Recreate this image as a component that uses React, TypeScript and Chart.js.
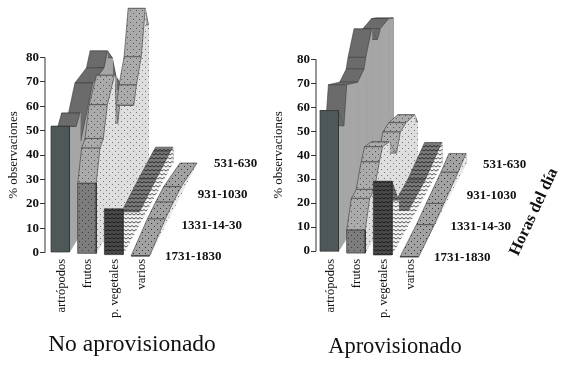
import React, { useEffect, useRef } from "react";
import { Chart, registerables } from "chart.js";

Chart.register(...registerables);

// ---- data ----
const categories = ["artrópodos", "frutos", "p. vegetales", "varios"];
const hourLabels = ["1731-1830", "1331-14-30", "931-1030", "531-630"];
const yTicks = [0, 10, 20, 30, 40, 50, 60, 70, 80];

// Depth along the hours axis (0 = 1731-1830, 3 = 531-630) and % observaciones
const noArtrDepth = [0, 0.37, 0.57, 0.62, 1.28, 1.9, 2.09, 2.35, 2.55, 3];
const noArtrValue = [51.5, 47, 50, 38, 53.7, 52.4, 57, 51, 41, 30];
const noFrutDepth = [0, 0.22, 0.41, 0.64, 1.05, 1.24, 1.35, 2.16, 2.31, 2.59, 2.82, 3];
const noFrutValue = [28.7, 40.4, 42, 53, 60, 38, 44, 34, 40.5, 48.6, 65.6, 56.6];
const noVegDepth = [0, 1, 2, 2.85, 3];
const noVegValue = [18.7, 5, 6, 6.5, 6.5];
const noVarDepth = [0, 1, 1.5, 2, 3];
const noVarValue = [0, 2.5, 3, 3, 0];

const siArtrDepth = [0, 0.3, 0.45, 1.05, 1.4, 1.5, 1.82, 2.14, 2.3, 2.75, 3];
const siArtrValue = [58.7, 48.7, 64, 57.8, 59, 62.7, 70.7, 62.4, 65, 63.7, 61];
const siFrutDepth = [0, 0.26, 0.53, 0.81, 1, 1.37, 1.8, 2.02, 2.35, 2.85, 3];
const siFrutValue = [9.6, 19.6, 20, 28, 32, 29.4, 19.4, 25.5, 25.3, 22.4, 17.6];
const siVegDepth = [0, 0.4, 1, 2, 3];
const siVegValue = [30.7, 17.8, 6, 6, 9];
const siVarDepth = [0, 1, 1.6, 2.5, 3];
const siVarValue = [0, 0.5, 1.6, 3, 4.4];

// ---- projection and layout ----
const SERIF = "'Liberation Serif', serif";

type Panel = {
  canvasLeft: number; canvasWidth: number; axisWidth: number; x0: number; zeroPx: number; ppu: number;
  y0: number; yDrift: number; backY: number; caption: string; captionX: number; captionY: number; captionSize: number;
  titleX: number; series: { d: number[]; v: number[] }[]; axisTitle?: string;
};

const panels: Panel[] = [
  {
    canvasLeft: 0, canvasWidth: 266, axisWidth: 45, x0: 51, zeroPx: 252.7, ppu: 2.44,
    y0: 252, yDrift: 1.3, backY: 163, caption: "No aprovisionado", captionX: 132, captionY: 345, captionSize: 23.5,
    titleX: 14,
    series: [
      { d: noArtrDepth, v: noArtrValue }, { d: noFrutDepth, v: noFrutValue },
      { d: noVegDepth, v: noVegValue }, { d: noVarDepth, v: noVarValue },
    ],
  },
  {
    canvasLeft: 266, canvasWidth: 300, axisWidth: 50, x0: 320, zeroPx: 251, ppu: 2.396,
    y0: 251.2, yDrift: 1.85, backY: 164, caption: "Aprovisionado", captionX: 395, captionY: 347, captionSize: 22.5,
    titleX: 279,
    series: [
      { d: siArtrDepth, v: siArtrValue }, { d: siFrutDepth, v: siFrutValue },
      { d: siVegDepth, v: siVegValue }, { d: siVarDepth, v: siVarValue },
    ],
    axisTitle: "Horas del día",
  },
];

const CAT_STEP = 26.7;
const width = (d: number) => 18.5 - 0.5 * d;
const dxOf = (c: number) => 18.7 - 0.8 * c;

function makePattern(bg: string, size: number, draw: (g: CanvasRenderingContext2D) => void) {
  const cv = document.createElement("canvas");
  cv.width = size;
  cv.height = size;
  const g = cv.getContext("2d")!;
  g.fillStyle = bg;
  g.fillRect(0, 0, size, size);
  draw(g);
  return g.createPattern(cv, "repeat")!;
}
const dots = (color: string) => (g: CanvasRenderingContext2D) => {
  g.fillStyle = color;
  g.fillRect(1, 1, 1, 1);
  g.fillRect(4, 4, 1, 1);
};
const waves = (color: string) => (g: CanvasRenderingContext2D) => {
  g.strokeStyle = color;
  g.lineWidth = 1;
  g.beginPath();
  g.moveTo(0, 1.5);
  g.lineTo(2, 3);
  g.lineTo(4, 1.5);
  g.stroke();
};

function buildDatasets(p: Panel) {
  const skins = [
    { front: "#4f5858", ribbon: "#6b6b6b", wall: "#a6a6a6" },
    {
      front: makePattern("#7d7d7d", 6, dots("#3c3c3c")),
      ribbon: makePattern("#ababab", 6, dots("#555555")),
      wall: makePattern("#dedede", 6, dots("#777777")),
    },
    {
      front: makePattern("#4a4a4a", 4, waves("#1c1c1c")),
      ribbon: makePattern("#7a7a7a", 4, waves("#2c2c2c")),
      wall: makePattern("#f2f2f2", 4, waves("#555555")),
    },
    {
      front: "#888888",
      ribbon: makePattern("#a2a2a2", 6, dots("#333333")),
      wall: makePattern("#e8e8e8", 6, dots("#777777")),
    },
  ];

  const out: any[] = [];
  const poly = (pts: { x: number; y: number }[], fill: any, stroke: any, bw: number) => {
    out.push({
      data: [...pts, pts[0]], showLine: true, fill: "shape", backgroundColor: fill, borderColor: stroke,
      borderWidth: bw, pointRadius: 0, tension: 0, clip: false,
    });
  };

  p.series.forEach((s, c) => {
    const skin = skins[c];
    const y0 = p.y0 + c * p.yDrift;
    const dy = (y0 - p.backY) / 3;
    const X = (d: number) => p.x0 + c * CAT_STEP + d * dxOf(c);
    const Y = (d: number, v: number) => v + (p.zeroPx - y0 + d * dy) / p.ppu;
    const L = (i: number) => ({ x: X(s.d[i]), y: Y(s.d[i], s.v[i]) });
    const R = (i: number) => ({ x: X(s.d[i]) + width(s.d[i]), y: Y(s.d[i], s.v[i]) });
    const G = (i: number) => ({ x: X(s.d[i]) + width(s.d[i]), y: Y(s.d[i], 0) });
    const n = s.d.length;

    // back edge, then slices from back to front, then the front face
    poly([R(n - 1), G(n - 1)], skin.wall, "#444444", 0.7);
    for (let i = n - 2; i >= 0; i--) {
      poly([R(i), R(i + 1), G(i + 1), G(i)], skin.wall, skin.wall, 0.8);
      poly([L(i), R(i), R(i + 1), L(i + 1)], skin.ribbon, "#3a3a3a", 0.6);
    }
    poly([R(0), G(0)], "#000", "#333333", 0.7);
    const fl = { x: X(0), y: Y(0, 0) };
    poly([L(0), R(0), G(0), fl], skin.front, "#333333", 0.7);
  });

  // the value axis line, from 0 to 80
  const ax = p.canvasLeft + p.axisWidth;
  out.push({
    data: [{ x: ax, y: yTicks[0] }, { x: ax, y: yTicks[yTicks.length - 1] }], showLine: true, fill: false,
    borderColor: "#333333", borderWidth: 1, pointRadius: 0, clip: false,
  });
  return out.reverse();
}

const noPad = (sc: any) => {
  sc.paddingLeft = 0; sc.paddingRight = 0; sc.paddingTop = 0; sc.paddingBottom = 0;
};

function makeChart(canvas: HTMLCanvasElement, p: Panel) {
  const labelPlugin = {
    id: "labels",
    afterDraw(chart: any) {
      const { ctx, scales } = chart;
      const c = categories.length - 1;
      const y0 = p.y0 + c * p.yDrift;
      const dy = (y0 - p.backY) / 3;
      ctx.save();
      ctx.fillStyle = "#111";
      ctx.textBaseline = "middle";
      ctx.textAlign = "left";
      ctx.font = `bold 13px ${SERIF}`;
      hourLabels.forEach((t, d) => {
        const x = p.x0 + c * CAT_STEP + d * dxOf(c) + width(0) + 15.5;
        const v = (p.zeroPx - y0 + d * dy) / p.ppu;
        ctx.fillText(t, scales.x.getPixelForValue(x), scales.y.getPixelForValue(v) + 1);
      });
      ctx.textAlign = "center";
      ctx.font = `${p.captionSize}px ${SERIF}`;
      ctx.fillText(p.caption, p.captionX - p.canvasLeft, p.captionY);
      ctx.save();
      ctx.translate(p.titleX - p.canvasLeft, 155);
      ctx.rotate(-Math.PI / 2);
      ctx.font = `13px ${SERIF}`;
      ctx.fillText("% observaciones", 0, 0);
      ctx.restore();
      if (p.axisTitle) {
        ctx.translate(534 - p.canvasLeft, 212);
        ctx.rotate((-65 * Math.PI) / 180);
        ctx.font = `bold 16.5px ${SERIF}`;
        ctx.fillText(p.axisTitle, 0, 0);
      }
      ctx.restore();
    },
  };

  const bottomPx = 258;
  return new Chart(canvas, {
    type: "scatter",
    data: { datasets: buildDatasets(p) },
    plugins: [labelPlugin],
    options: {
      animation: false,
      responsive: false,
      layout: { padding: 0 },
      plugins: { legend: { display: false }, tooltip: { enabled: false } },
      scales: {
        x: {
          type: "linear",
          min: p.canvasLeft + p.axisWidth,
          max: p.canvasLeft + p.canvasWidth,
          grid: { display: false, drawTicks: false },
          border: { display: false },
          afterBuildTicks: (sc: any) => {
            sc.ticks = categories.map((_, c) => ({ value: p.x0 + c * CAT_STEP + width(0) / 2 + 1 }));
          },
          afterFit: (sc: any) => { sc.height = 365 - bottomPx; noPad(sc); },
          ticks: {
            autoSkip: false, minRotation: 90, maxRotation: 90, padding: 1, color: "#111",
            font: { family: SERIF, size: 12.5 },
            callback: (_: any, i: number) => categories[i],
          },
        },
        y: {
          type: "linear",
          min: (p.zeroPx - bottomPx) / p.ppu,
          max: p.zeroPx / p.ppu,
          grid: { drawOnChartArea: false, drawTicks: true, tickLength: 5, color: "#333333" },
          border: { display: false },
          afterBuildTicks: (sc: any) => {
            sc.ticks = yTicks.map((value) => ({ value }));
          },
          afterFit: (sc: any) => { sc.width = p.axisWidth; noPad(sc); },
          ticks: { padding: 1, color: "#111", font: { family: SERIF, size: 13, weight: "bold" } },
        },
      },
    },
  } as any);
}

export default function App() {
  const leftRef = useRef<HTMLCanvasElement>(null);
  const rightRef = useRef<HTMLCanvasElement>(null);
  useEffect(() => {
    const a = makeChart(leftRef.current!, panels[0]);
    const b = makeChart(rightRef.current!, panels[1]);
    return () => { a.destroy(); b.destroy(); };
  }, []);
  return (
    <div style={{ position: "absolute", left: 0, top: 0, width: 566, height: 365, background: "#fff" }}>
      <canvas ref={leftRef} width={panels[0].canvasWidth} height={365} style={{ position: "absolute", left: panels[0].canvasLeft, top: 0 }} />
      <canvas ref={rightRef} width={panels[1].canvasWidth} height={365} style={{ position: "absolute", left: panels[1].canvasLeft, top: 0 }} />
    </div>
  );
}
